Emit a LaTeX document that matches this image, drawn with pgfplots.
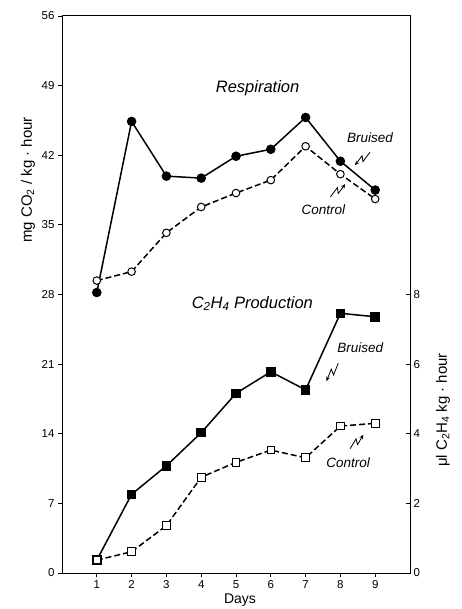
\documentclass[border=0pt]{standalone}
\usepackage{fontspec}
\setmainfont{Liberation Sans}
\usepackage{pgfplots}
\pgfplotsset{compat=1.18}
\usetikzlibrary{calc,arrows.meta}

% respiration, mg CO2 / kg.hour
\pgfplotstableread{
day bruised control
1 28.2 29.4
2 45.4 30.3
3 39.9 34.2
4 39.7 36.8
5 41.9 38.2
6 42.6 39.5
7 45.8 42.9
8 41.4 40.1
9 38.5 37.6
}\resp
% ethylene, ul C2H4 / kg.hour
\pgfplotstableread{
day bruised control
1 0.37 0.37
2 2.26 0.61
3 3.08 1.36
4 4.03 2.75
5 5.16 3.18
6 5.78 3.53
7 5.26 3.31
8 7.46 4.22
9 7.36 4.30
}\ethy

\newcommand\zz[2]{%
  \draw[line width=0.8pt,-{Stealth[length=4.5pt,width=4pt]}]
    (#1) -- ($(#1)!0.58!(#2)!2.5pt!90:(#2)$)
    -- ($(#1)!0.42!(#2)!2.5pt!-90:(#2)$) -- (#2);}

\pgfplotsset{
  frame/.style={
    at={(0pt,0pt)}, anchor=south west,
    scale only axis, width=348pt, height=557pt,
    xmin=0, xmax=10,
    axis line style={line width=1pt},
    tick style={line width=0.9pt, black},
    major tick length=4pt,
    tick label style={font=\fontsize{11.5}{13}\selectfont},
    /pgf/number format/assume math mode=true,
  },
  full/.style={black, line width=1.5pt, mark=*, mark size=4pt},
  open/.style={black, line width=1.5pt, dash pattern=on 6pt off 3pt,
               mark=*, mark size=3.8pt,
               mark options={solid, fill=white, line width=1pt}},
}

\begin{document}
\begin{tikzpicture}
\begin{axis}[frame,
  ymin=0, ymax=56,
  xtick={1,...,9}, ytick={0,7,...,56},
  xtick pos=left, ytick pos=left, tick align=outside,
]
\addplot[full] table[x=day, y=bruised] {\resp};
\addplot[open] table[x=day, y=control] {\resp};

\coordinate (rb1) at (axis cs:8.85,42.3);
\coordinate (rb2) at (axis cs:8.42,41.0);
\coordinate (rc1) at (axis cs:7.71,37.8);
\coordinate (rc2) at (axis cs:8.14,39.1);
\coordinate (eb1) at (axis cs:7.94,21.1);
\coordinate (eb2) at (axis cs:7.60,19.3);
\coordinate (ec1) at (axis cs:8.28,12.5);
\coordinate (ec2) at (axis cs:8.66,13.9);

\node[font=\fontsize{16.5}{18}\selectfont\itshape] at (axis cs:5.62,48.7) {Respiration};
\node[font=\fontsize{13.5}{15}\selectfont\itshape] at (axis cs:8.85,43.8) {Bruised};
\node[font=\fontsize{13.5}{15}\selectfont\itshape] at (axis cs:7.51,36.5) {Control};
\node[font=\fontsize{16.5}{18}\selectfont\itshape] at (axis cs:5.47,27.1)
  {C\textsubscript{2}H\textsubscript{4} Production};
\node[font=\fontsize{13.5}{15}\selectfont\itshape] at (axis cs:8.57,22.7) {Bruised};
\node[font=\fontsize{13.5}{15}\selectfont\itshape] at (axis cs:8.22,11.1) {Control};
\end{axis}

\begin{axis}[frame,
  ymin=0, ymax=16,
  axis x line=none, axis y line*=right,
  ytick={0,2,4,6,8}, tick align=inside,
]
\addplot[full, mark=square*, mark size=4pt] table[x=day, y=bruised] {\ethy};
\addplot[open, mark=square*, mark size=3.8pt] table[x=day, y=control] {\ethy};
\end{axis}

\zz{rb1}{rb2}
\zz{rc1}{rc2}
\zz{eb1}{eb2}
\zz{ec1}{ec2}

\node[rotate=90, font=\fontsize{15}{17}\selectfont] at (-34pt,393pt)
  {mg CO\textsubscript{2} / kg · hour};
\node[rotate=90, font=\fontsize{15}{17}\selectfont] at (381pt,163pt)
  {μl C\textsubscript{2}H\textsubscript{4} kg · hour};
\node[font=\fontsize{14}{16}\selectfont] at (178pt,-27pt) {Days};

\pgfresetboundingbox
\path (-62pt,-36pt) rectangle (399pt,573pt);
\end{tikzpicture}
\end{document}
